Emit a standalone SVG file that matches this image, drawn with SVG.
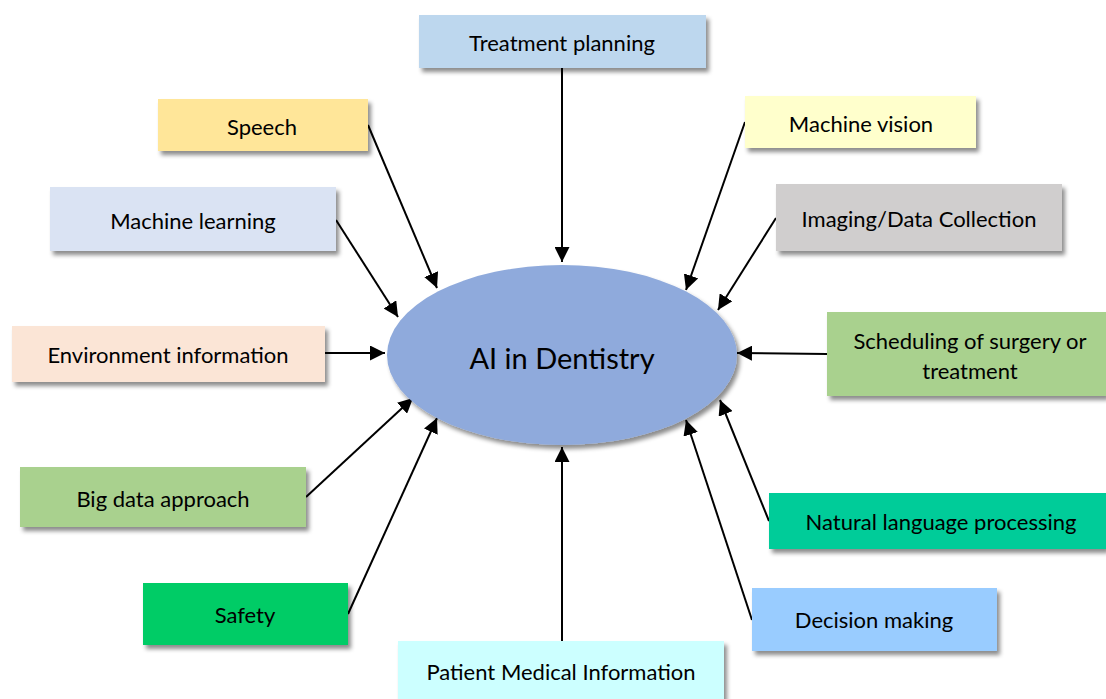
<svg xmlns="http://www.w3.org/2000/svg" width="1106" height="699" viewBox="0 0 1106 699">
<style>
.box{filter:url(#sh)}
.t{font-family:Lato,"Open Sans",sans-serif;font-size:22px;fill:#000;text-anchor:middle;dominant-baseline:central}
.c{stroke:#000;stroke-width:2;fill:none;marker-end:url(#ah)}
</style>
<defs>
<filter id="sh" x="-10%" y="-20%" width="120%" height="150%">
<feDropShadow dx="3" dy="4" stdDeviation="2" flood-color="#000" flood-opacity="0.45"/>
</filter>
<marker id="ah" viewBox="0 0 10 10" refX="10" refY="5" markerWidth="7.5" markerHeight="7.5" orient="auto" markerUnits="strokeWidth">
<path d="M0,0 L10,5 L0,10 z" fill="#000"/>
</marker>
</defs>
<rect width="1106" height="699" fill="#fff"/>
<g id="connectors">
<line class="c" x1="562" y1="68" x2="562" y2="262"/>
<line class="c" x1="368" y1="125" x2="437" y2="288"/>
<line class="c" x1="336" y1="220" x2="398" y2="317"/>
<line class="c" x1="325" y1="353" x2="385" y2="353"/>
<line class="c" x1="306" y1="497" x2="413" y2="398"/>
<line class="c" x1="348" y1="614" x2="437" y2="418"/>
<line class="c" x1="562" y1="641" x2="562" y2="447"/>
<line class="c" x1="752" y1="620" x2="686" y2="420"/>
<line class="c" x1="769" y1="521" x2="720" y2="400"/>
<line class="c" x1="827" y1="354" x2="737" y2="353"/>
<line class="c" x1="776" y1="218" x2="718" y2="310"/>
<line class="c" x1="745" y1="122" x2="686" y2="290"/>
</g>
<g id="center">
<ellipse class="box" cx="562" cy="355" rx="175" ry="90" fill="#8FAADC"/>
<text class="t" x="562" y="357" style="font-size:29px">AI in Dentistry</text>
</g>
<g id="treatment-planning"><rect class="box" x="419" y="15" width="287" height="53" fill="#BDD7EE"/><text class="t" x="562" y="42">Treatment planning</text></g>
<g id="speech"><rect class="box" x="158" y="99" width="210" height="52" fill="#FFE699"/><text class="t" x="262" y="126">Speech</text></g>
<g id="machine-vision"><rect class="box" x="745" y="96" width="231" height="52" fill="#FFFFCC"/><text class="t" x="861" y="123">Machine vision</text></g>
<g id="machine-learning"><rect class="box" x="50" y="187" width="286" height="64" fill="#DAE3F3"/><text class="t" x="193" y="220">Machine learning</text></g>
<g id="imaging"><rect class="box" x="776" y="184" width="286" height="67" fill="#D0CECE"/><text class="t" x="919" y="218">Imaging/Data Collection</text></g>
<g id="environment"><rect class="box" x="12" y="326" width="313" height="56" fill="#FBE5D6"/><text class="t" x="168" y="354">Environment information</text></g>
<g id="scheduling"><rect class="box" x="827" y="312" width="279" height="84" fill="#A9D18E"/><text class="t" x="970" y="340">Scheduling of surgery or</text><text class="t" x="970" y="370">treatment</text></g>
<g id="big-data"><rect class="box" x="20" y="467" width="286" height="60" fill="#A9D18E"/><text class="t" x="163" y="498">Big data approach</text></g>
<g id="nlp"><rect class="box" x="769" y="493" width="337" height="56" fill="#00CC99"/><text class="t" x="941" y="521">Natural language processing</text></g>
<g id="safety"><rect class="box" x="143" y="583" width="205" height="62" fill="#00CC66"/><text class="t" x="245" y="614">Safety</text></g>
<g id="decision"><rect class="box" x="752" y="588" width="245" height="63" fill="#99CCFF"/><text class="t" x="874" y="619">Decision making</text></g>
<g id="patient"><rect class="box" x="398" y="641" width="326" height="60" fill="#CCFFFF"/><text class="t" x="561" y="671">Patient Medical Information</text></g>
</svg>
